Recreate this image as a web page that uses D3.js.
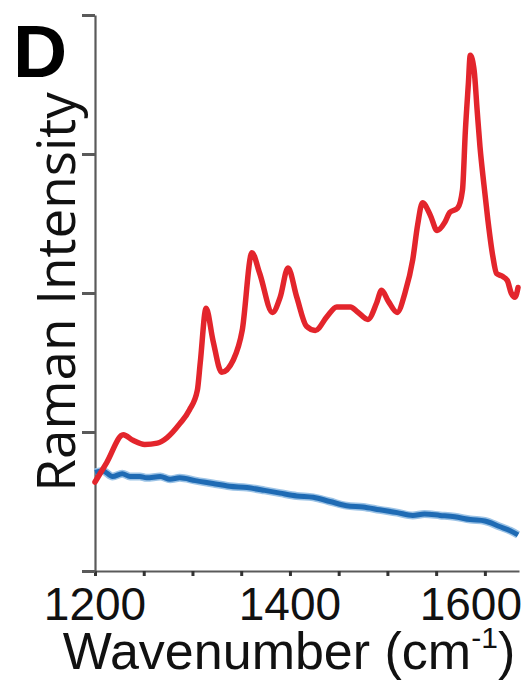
<!DOCTYPE html>
<html>
<head>
<meta charset="utf-8">
<script src="https://cdn.jsdelivr.net/npm/d3@7"></script>
<style>
  body { margin: 0; background: #fff; }
  svg { display: block; }
</style>
</head>
<body>
<svg id="chart" width="530" height="685"></svg>
<script>
// SERS spectrum (red), wavenumber in cm-1, intensity in tick units
var redWavenumber = [1200, 1212, 1229, 1239, 1251, 1264, 1274, 1287, 1297, 1305, 1308, 1314, 1321, 1330,
  1342, 1351, 1361, 1369, 1382, 1390, 1398, 1407, 1417, 1426, 1438, 1448, 1462, 1470, 1480, 1489,
  1494, 1501, 1510, 1518, 1526, 1531, 1536, 1544, 1551, 1559, 1564, 1572, 1577, 1580, 1583, 1585,
  1589, 1592, 1595, 1599, 1603, 1608, 1612, 1618, 1623, 1627, 1631, 1634];
var redIntensity = [0.64, 0.78, 0.98, 0.94, 0.91, 0.92, 0.96, 1.06, 1.16, 1.30, 1.50, 1.89, 1.66, 1.43,
  1.52, 1.73, 2.29, 2.14, 1.86, 1.97, 2.18, 1.97, 1.76, 1.73, 1.83, 1.90, 1.90, 1.86, 1.81, 1.93,
  2.02, 1.94, 1.86, 2.00, 2.24, 2.49, 2.65, 2.56, 2.45, 2.51, 2.58, 2.61, 2.74, 3.17, 3.50, 3.71,
  3.60, 3.32, 3.05, 2.78, 2.53, 2.27, 2.14, 2.12, 2.09, 2.00, 1.97, 2.04];

// reference spectrum (blue)
var blueWavenumber = [1200, 1208, 1218, 1228, 1236, 1246, 1253, 1267, 1277, 1287, 1303, 1321, 1338,
  1356, 1374, 1390, 1407, 1424, 1441, 1458, 1475, 1492, 1510, 1526, 1538, 1554, 1569, 1585, 1600,
  1615, 1626, 1634];
var blueIntensity = [0.71, 0.72, 0.68, 0.70, 0.68, 0.68, 0.67, 0.68, 0.66, 0.67, 0.65, 0.63, 0.61,
  0.60, 0.58, 0.56, 0.54, 0.53, 0.50, 0.47, 0.46, 0.44, 0.42, 0.40, 0.41, 0.40, 0.39, 0.37, 0.36,
  0.32, 0.29, 0.26];

var xTicks = [1200, 1250, 1300, 1350, 1400, 1450, 1500, 1550, 1600];
var xLabels = [1200, 1400, 1600];
var yTicks = [0, 1, 2, 3, 4];

var svg = d3.select("#chart");
var x = d3.scaleLinear().domain([1200, 1635]).range([95, 519]);
var y = d3.scaleLinear().domain([0, 4]).range([571, 15]);

var axisColor = "#5a5a5a";

// x axis: small ticks below the line
var gx = svg.append("g")
  .attr("transform", "translate(0," + y(0) + ")")
  .call(d3.axisBottom(x).tickValues(xTicks).tickSizeInner(5).tickSizeOuter(0).tickFormat(""));
gx.select(".domain").attr("stroke", axisColor).attr("stroke-width", 2.2);
gx.selectAll(".tick line").attr("stroke", "#333").attr("stroke-width", 3);

// y axis, no labels
var gy = svg.append("g")
  .attr("transform", "translate(" + x(1200) + ",0)")
  .call(d3.axisLeft(y).tickValues(yTicks).tickSizeInner(13).tickSizeOuter(0).tickFormat(""));
gy.select(".domain").attr("stroke", axisColor).attr("stroke-width", 2.2);
gy.selectAll(".tick line").attr("stroke", axisColor).attr("stroke-width", 3);

// tick labels
svg.append("g").selectAll("text")
  .data(xLabels)
  .enter().append("text")
  .attr("x", function(d, i) { return i === xLabels.length - 1 ? x.range()[1] + 3 : x(d); })
  .attr("y", 620)
  .attr("text-anchor", function(d, i) { return i === xLabels.length - 1 ? "end" : "middle"; })
  .attr("font-family", "'Liberation Sans', Arial, sans-serif")
  .attr("font-size", 46)
  .attr("fill", "#111")
  .text(function(d) { return d; });

// spectra
var line = d3.line()
  .x(function(d) { return x(d[0]); })
  .y(function(d) { return y(d[1]); })
  .curve(d3.curveMonotoneX);

var blue = d3.zip(blueWavenumber, blueIntensity);
var red = d3.zip(redWavenumber, redIntensity);

svg.append("path")
  .datum(blue)
  .attr("d", line)
  .attr("fill", "none")
  .attr("stroke", "#9cc3e6")
  .attr("stroke-width", 8)
  .attr("stroke-linejoin", "round");
svg.append("path")
  .datum(blue)
  .attr("d", line)
  .attr("fill", "none")
  .attr("stroke", "#1f6bb4")
  .attr("stroke-width", 5)
  .attr("stroke-linejoin", "round");

svg.append("path")
  .datum(red)
  .attr("d", line)
  .attr("fill", "none")
  .attr("stroke", "#e3252c")
  .attr("stroke-width", 5.5)
  .attr("stroke-linejoin", "round")
  .attr("stroke-linecap", "round");

// axis titles
var xt = svg.append("text")
  .attr("x", 289)
  .attr("y", 669)
  .attr("text-anchor", "middle")
  .attr("font-family", "'Liberation Sans', Arial, sans-serif")
  .attr("font-size", 52)
  .attr("fill", "#111");
xt.append("tspan").text("Wavenumber (cm");
xt.append("tspan").attr("font-size", 30).attr("dy", -21).text("-1");
xt.append("tspan").attr("dy", 21).text(")");

svg.append("text")
  .attr("transform", "translate(75,292) rotate(-90)")
  .attr("text-anchor", "middle")
  .attr("font-family", "'Open Sans', 'Noto Sans', sans-serif")
  .attr("font-size", 53)
  .attr("fill", "#111")
  .text("Raman Intensity");

// panel letter
svg.append("text")
  .attr("x", 13)
  .attr("y", 77)
  .attr("font-family", "'Liberation Sans', Arial, sans-serif")
  .attr("font-weight", "bold")
  .attr("font-size", 75)
  .attr("fill", "#000")
  .text("D");
</script>
</body>
</html>
